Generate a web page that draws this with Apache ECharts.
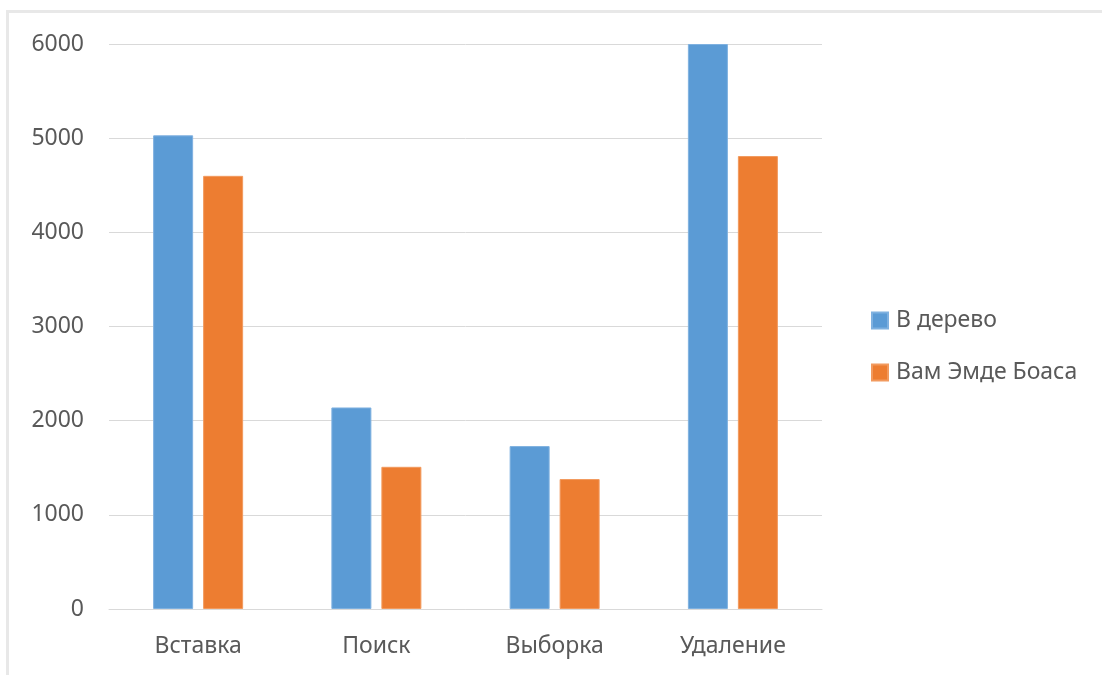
<!DOCTYPE html>
<html>
<head>
<meta charset="utf-8">
<script src="https://cdn.jsdelivr.net/npm/echarts@6/dist/echarts.min.js"></script>
<style>
  html, body { margin: 0; padding: 0; background: #fff; overflow: hidden; }
  .frame {
    position: absolute; left: 6px; top: 10px;
    width: 1300px; height: 900px;
    border: 3px solid #e8e8e8;
  }
  #chart { position: absolute; left: 0; top: 0; width: 1102px; height: 675px; }
</style>
</head>
<body>
<div class="frame"></div>
<div id="chart"></div>
<script>
// operations
var categories = ['Вставка', 'Поиск', 'Выборка', 'Удаление']
var seriesNames = ['В дерево', 'Вам Эмде Боаса']
var treeValues = [5030, 2140, 1730, 6000]
var vebValues = [4600, 1510, 1380, 4810]
var yTicks = { min: 0, max: 6000, interval: 1000 }

var textColor = '#595959'
var fontFamily = '"Noto Sans", "Open Sans", sans-serif'

var myChart = echarts.init(document.getElementById('chart'))
var option = {
  backgroundColor: 'transparent',
  animation: false,
  textStyle: { fontFamily: fontFamily },
  grid: {
    left: 109,
    right: 280,
    top: 44,
    bottom: 66,
    containLabel: false
  },
  legend: {
    orient: 'vertical',
    left: 866,
    top: 303,
    itemWidth: 16,
    itemHeight: 16,
    itemGap: 27,
    icon: 'rect',
    textStyle: {
      color: textColor,
      fontSize: 23,
      fontFamily: fontFamily,
      lineHeight: 25,
      padding: [0, 0, 0, 3]
    },
    data: seriesNames
  },
  xAxis: {
    type: 'category',
    data: categories,
    axisLine: { show: true, lineStyle: { color: '#d9d9d9', width: 1 } },
    axisTick: { show: false },
    axisLabel: { color: textColor, fontSize: 23, margin: 26, fontFamily: fontFamily }
  },
  yAxis: {
    type: 'value',
    min: yTicks.min,
    max: yTicks.max,
    interval: yTicks.interval,
    axisLine: { show: false },
    axisTick: { show: false },
    splitLine: { lineStyle: { color: '#d9d9d9', width: 1 } },
    axisLabel: {
      color: textColor,
      fontSize: 23,
      margin: 25,
      fontFamily: fontFamily,
      formatter: function (v) { return String(v) }
    }
  },
  series: [
    {
      name: seriesNames[0],
      type: 'bar',
      data: treeValues,
      barWidth: 40,
      barGap: '25%',
      itemStyle: { color: '#5b9bd5', borderColor: '#7fb1e0', borderWidth: 1 }
    },
    {
      name: seriesNames[1],
      type: 'bar',
      data: vebValues,
      barWidth: 40,
      barGap: '25%',
      itemStyle: { color: '#ed7d31', borderColor: '#f29a5e', borderWidth: 1 }
    }
  ]
}
myChart.setOption(option)
</script>
</body>
</html>
